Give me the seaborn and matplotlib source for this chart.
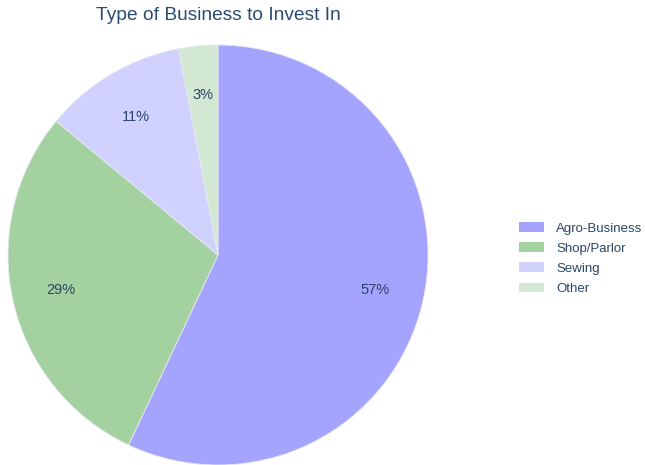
import matplotlib
matplotlib.use("Agg")
import matplotlib.pyplot as plt
import seaborn as sns
from matplotlib.patches import Patch

sns.set_style("white")
plt.rcParams["font.family"] = ["Liberation Sans", "DejaVu Sans"]

categories = ["Agro-Business", "Shop/Parlor", "Sewing", "Other"]
shares = [57, 29, 11, 3]
colors = ["#a4a4fe", "#a3d1a0", "#d1d1fe", "#d2e8d2"]
text_color = "#2a4566"

fig = plt.figure(figsize=(6.45, 4.65), dpi=100)
ax = fig.add_axes([8 / 645, 0.0, 420 / 645, 420 / 465])

wedges, texts, autotexts = ax.pie(
    shares,
    colors=colors,
    startangle=90,
    counterclock=False,
    autopct="%d%%",
    pctdistance=0.765,
    wedgeprops=dict(edgecolor="#e8e8f4", linewidth=0.6),
    textprops=dict(color=text_color, fontsize=10.5),
)
ax.set_aspect("equal")
ax.set_xlim(-1, 1)
ax.set_ylim(-1, 1)
ax.axis("off")

fig.text(218 / 645, 1 - 15 / 465, "Type of Business to Invest In",
         ha="center", va="center", fontsize=13.8, color="#2a4a70")

handles = [Patch(facecolor=c, edgecolor="none") for c in colors]
fig.legend(handles, categories, loc="upper left",
           bbox_to_anchor=(514 / 645, 1 - 217 / 465),
           frameon=False, fontsize=9.5, labelcolor=text_color,
           handlelength=1.9, handleheight=0.75, handletextpad=0.9,
           labelspacing=0.58, borderaxespad=0)

fig.savefig("out.png", dpi=100)
